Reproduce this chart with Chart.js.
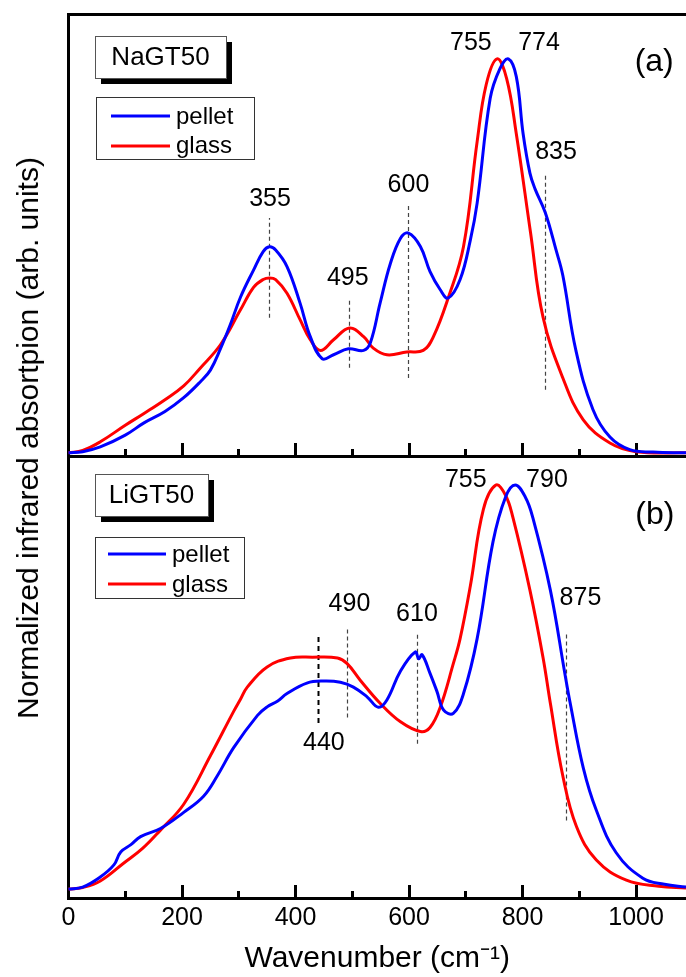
<!DOCTYPE html>
<html>
<head>
<meta charset="utf-8">
<script src="https://cdn.jsdelivr.net/npm/chart.js@4"></script>
<style>
html,body{margin:0;padding:0;background:#fff;}
#wrap{position:relative;width:686px;height:977px;overflow:hidden;background:#fff;font-family:"Liberation Sans",Arial,sans-serif;}
#ca{position:absolute;left:0;top:0;}
#cb{position:absolute;left:0;top:446px;}
#ytitle{position:absolute;left:28px;top:438px;transform:translate(-50%,-50%) rotate(-90deg);white-space:nowrap;font-size:30px;color:#000;line-height:1;}
</style>
</head>
<body>
<div id="wrap">
<canvas id="ca" width="686" height="462"></canvas>
<canvas id="cb" width="686" height="531"></canvas>
<div id="ytitle">Normalized infrared absortpion (arb. units)</div>
</div>
<script>
// ---------------- DATA ----------------
const seriesNames = ['pellet', 'glass'];
const xTickValues = [0, 100, 200, 300, 400, 500, 600, 700, 800, 900, 1000];
const xMin = 0, xMax = 1088;

// Panel (a) NaGT50
const naPelletX = [0, 25, 56, 100, 133, 170, 203, 232, 250, 268, 285, 303, 326, 343, 354, 365, 385, 408, 426, 447, 467, 493, 520, 532, 549, 567, 585, 599, 620, 637, 655, 669, 690, 708, 720, 743, 760, 775, 789, 801, 813, 822, 840, 859, 871, 894, 924, 954, 989, 1030, 1088];
const naPelletY = [0, 0.003, 0.015, 0.045, 0.076, 0.105, 0.14, 0.18, 0.21, 0.265, 0.325, 0.395, 0.464, 0.511, 0.523, 0.515, 0.473, 0.38, 0.295, 0.239, 0.249, 0.264, 0.26, 0.28, 0.38, 0.48, 0.545, 0.558, 0.524, 0.46, 0.414, 0.393, 0.44, 0.54, 0.634, 0.9, 0.975, 1.0, 0.955, 0.81, 0.71, 0.67, 0.61, 0.515, 0.45, 0.26, 0.11, 0.04, 0.008, 0.002, 0.0];
const naGlassX = [0, 25, 56, 100, 133, 170, 203, 232, 268, 303, 326, 343, 354, 365, 385, 408, 426, 444, 467, 495, 520, 537, 561, 596, 625, 643, 669, 696, 720, 736, 755, 772, 789, 814, 836, 871, 907, 954, 1000, 1088];
const naGlassY = [0, 0.006, 0.028, 0.07, 0.10, 0.135, 0.17, 0.215, 0.275, 0.363, 0.42, 0.44, 0.444, 0.44, 0.405, 0.338, 0.287, 0.26, 0.287, 0.317, 0.295, 0.266, 0.249, 0.256, 0.26, 0.295, 0.393, 0.524, 0.79, 0.935, 1.0, 0.95, 0.81, 0.56, 0.345, 0.19, 0.084, 0.025, 0.003, 0.0];

// Panel (b) LiGT50
const liPelletX = [0, 25, 56, 80, 92, 110, 127, 162, 203, 238, 262, 291, 333, 350, 368, 385, 420, 450, 479, 502, 526, 546, 561, 585, 611, 617, 623, 637, 649, 661, 678, 696, 720, 748, 770, 787, 805, 818, 849, 875, 884, 907, 930, 965, 1012, 1050, 1088];
const liPelletY = [0, 0.005, 0.03, 0.06, 0.092, 0.11, 0.13, 0.15, 0.19, 0.23, 0.28, 0.35, 0.43, 0.451, 0.465, 0.484, 0.51, 0.515, 0.512, 0.50, 0.476, 0.45, 0.468, 0.54, 0.587, 0.57, 0.58, 0.534, 0.49, 0.443, 0.435, 0.484, 0.62, 0.86, 0.97, 1.0, 0.97, 0.92, 0.74, 0.53, 0.46, 0.30, 0.195, 0.09, 0.027, 0.012, 0.005];
const liGlassX = [0, 25, 56, 97, 130, 162, 203, 250, 291, 303, 315, 350, 391, 430, 474, 491, 514, 549, 585, 620, 637, 655, 678, 690, 708, 731, 753, 770, 783, 813, 836, 849, 871, 895, 930, 983, 1040, 1088];
const liGlassY = [0, 0.004, 0.02, 0.064, 0.10, 0.146, 0.21, 0.33, 0.44, 0.47, 0.50, 0.55, 0.572, 0.574, 0.572, 0.558, 0.517, 0.46, 0.414, 0.39, 0.40, 0.45, 0.558, 0.62, 0.75, 0.94, 1.0, 0.975, 0.92, 0.74, 0.574, 0.46, 0.28, 0.155, 0.072, 0.022, 0.007, 0.003];

// Peak markers (wavenumber, lower/upper normalized value) and labels
const naMarkX = [354, 495, 599, 839];
const naMarkLow = [0.343, 0.216, 0.19, 0.16];
const naMarkHigh = [0.596, 0.388, 0.63, 0.71];
const naLabelText = ['355', '495', '600', '835', '755', '774'];
const naLabelX = [355, 492, 599, 859, 709, 829];
const naLabelY = [0.643, 0.444, 0.68, 0.763, 1.04, 1.04];
const naPanelTag = '(a)', naPanelTagX = 1032, naPanelTagY = 0.992;
const naSample = 'NaGT50';

const liMarkX = [440, 491, 614, 877];
const liMarkLow = [0.411, 0.425, 0.36, 0.17];
const liMarkHigh = [0.634, 0.65, 0.636, 0.63];
const liLabelText = ['440', '490', '610', '875', '755', '790'];
const liLabelX = [450, 495, 614, 902, 700, 843];
const liLabelY = [0.361, 0.706, 0.681, 0.72, 1.012, 1.012];
const liPanelTag = '(b)', liPanelTagX = 1033, liPanelTagY = 0.926;
const liSample = 'LiGT50';

// ---------------- CHART ----------------
const FONT = "'Liberation Sans', Arial, sans-serif";
Chart.defaults.font.family = FONT;
Chart.defaults.color = '#000';
const BLUE = '#0000ff', RED = '#ff0000';

function pts(xs, ys) { return xs.map((x, i) => ({ x: x, y: ys[i] })); }

function dataset(label, xs, ys, color) {
  return {
    label: label, data: pts(xs, ys), borderColor: color, backgroundColor: color,
    borderWidth: 3, pointRadius: 0, fill: false, tension: 0.4,
    clip: false
  };
}

function annotationPlugin(cfg) {
  return {
    id: 'ann' + cfg.key,
    beforeDatasetsDraw(chart) {
      const { ctx, scales: { x, y } } = chart;
      ctx.save();
      cfg.markX.forEach((mx, i) => {
        const heavy = cfg.heavy && cfg.heavy[i];
        ctx.beginPath();
        ctx.setLineDash(heavy ? [5, 4] : [4, 3]);
        ctx.lineWidth = heavy ? 2 : 1.2;
        ctx.strokeStyle = heavy ? '#000' : '#444';
        const px = Math.round(x.getPixelForValue(mx)) + 0.5;
        ctx.moveTo(px, y.getPixelForValue(cfg.markLow[i]));
        ctx.lineTo(px, y.getPixelForValue(cfg.markHigh[i]));
        ctx.stroke();
      });
      ctx.restore();
    },
    afterDraw(chart) {
      const { ctx, scales: { x, y } } = chart;
      ctx.save();
      ctx.fillStyle = '#000';
      ctx.textAlign = 'center';
      ctx.textBaseline = 'middle';
      ctx.font = '25px ' + FONT;
      cfg.labelText.forEach((t, i) => {
        ctx.fillText(t, x.getPixelForValue(cfg.labelX[i]), y.getPixelForValue(cfg.labelY[i]));
      });
      ctx.font = '32px ' + FONT;
      ctx.fillText(cfg.tag, x.getPixelForValue(cfg.tagX), y.getPixelForValue(cfg.tagY));

      // sample name box with drop shadow
      const b = cfg.box;
      ctx.fillStyle = '#000';
      ctx.fillRect(b.x + 6, b.y + 6, b.w, b.h);
      ctx.fillStyle = '#fff';
      ctx.fillRect(b.x, b.y, b.w, b.h);
      ctx.lineWidth = 1;
      ctx.strokeStyle = '#555';
      ctx.strokeRect(b.x + 0.5, b.y + 0.5, b.w, b.h);
      ctx.fillStyle = '#000';
      ctx.font = '26px ' + FONT;
      ctx.fillText(cfg.sample, b.x + b.w / 2, b.y + b.h / 2 + 1);

      // legend
      const L = cfg.legend;
      ctx.fillStyle = '#fff';
      ctx.fillRect(L.x, L.y, L.w, L.h);
      ctx.strokeStyle = '#333';
      ctx.lineWidth = 1;
      ctx.strokeRect(L.x + 0.5, L.y + 0.5, L.w, L.h);
      ctx.textAlign = 'left';
      ctx.textBaseline = 'alphabetic';
      ctx.font = '24px ' + FONT;
      chart.data.datasets.forEach((ds, i) => {
        const ly = L.y + L.lineY[i];
        ctx.beginPath();
        ctx.setLineDash([]);
        ctx.lineWidth = 3;
        ctx.strokeStyle = ds.borderColor;
        ctx.moveTo(L.x + L.lineX0, ly);
        ctx.lineTo(L.x + L.lineX1, ly);
        ctx.stroke();
        ctx.fillStyle = '#000';
        ctx.fillText(ds.label, L.x + L.textX, L.y + L.textY[i]);
      });
      ctx.restore();
    }
  };
}

function xAxis(showLabels, height) {
  return {
    type: 'linear', position: 'bottom', min: xMin, max: xMax,
    afterBuildTicks: s => { s.ticks = xTickValues.map(v => ({ value: v })); },
    ticks: {
      display: showLabels, autoSkip: false, maxRotation: 0, padding: 18,
      font: { size: 25 }, color: '#000',
      callback: v => (v % 200 === 0 ? String(v) : '')
    },
    grid: {
      display: true, drawOnChartArea: false, drawTicks: true, tickLength: -13,
      tickWidth: 3, tickColor: '#000',
      tickBorderDash: c => (c.tick && c.tick.value % 200 === 0) ? [] : [9, 100]
    },
    border: { display: true, width: 3, color: '#000' },
    title: showLabels ? { display: true, text: 'Wavenumber (cm\u207B\u00B9)', font: { size: 30 }, padding: 0, color: '#000' } : { display: false },
    afterFit: s => { s.height = height; }
  };
}

function yAxis(min, max) {
  return {
    type: 'linear', position: 'left', min: min, max: max,
    ticks: { display: false },
    grid: { display: false },
    border: { display: true, width: 3, color: '#000' },
    afterFit: s => { s.width = 68.5; }
  };
}

new Chart(document.getElementById('ca'), {
  type: 'line',
  data: { datasets: [dataset(seriesNames[0], naPelletX, naPelletY, BLUE), dataset(seriesNames[1], naGlassX, naGlassY, RED)] },
  options: {
    responsive: false, animation: false, events: [],
    layout: { padding: { top: 14, left: 0, right: 0, bottom: 0 } },
    plugins: { legend: { display: false }, tooltip: { enabled: false } },
    scales: {
      x: xAxis(false, 6),
      xTop: {
        type: 'linear', position: 'top', min: xMin, max: xMax,
        ticks: { display: false }, grid: { display: false },
        border: { display: true, width: 3, color: '#000' },
        afterFit: s => { s.height = 0; }
      },
      y: yAxis(-0.008, 1.114)
    }
  },
  plugins: [annotationPlugin({
    key: 'a', markX: naMarkX, markLow: naMarkLow, markHigh: naMarkHigh,
    labelText: naLabelText, labelX: naLabelX, labelY: naLabelY,
    tag: naPanelTag, tagX: naPanelTagX, tagY: naPanelTagY, sample: naSample,
    box: { x: 95, y: 36, w: 131, h: 42 },
    legend: { x: 96, y: 97, w: 158, h: 62, lineX0: 15, lineX1: 74, textX: 80, lineY: [19, 49], textY: [27, 56] }
  })]
});

new Chart(document.getElementById('cb'), {
  type: 'line',
  data: { datasets: [dataset(seriesNames[0], liPelletX, liPelletY, BLUE), dataset(seriesNames[1], liGlassX, liGlassY, RED)] },
  options: {
    responsive: false, animation: false, events: [],
    layout: { padding: { top: 10, left: 0, right: 0, bottom: 0 } },
    plugins: { legend: { display: false }, tooltip: { enabled: false } },
    scales: {
      x: xAxis(true, 79),
      y: yAxis(-0.022, 1.072)
    }
  },
  plugins: [annotationPlugin({
    key: 'b', markX: liMarkX, markLow: liMarkLow, markHigh: liMarkHigh, heavy: [true, false, false, false],
    labelText: liLabelText, labelX: liLabelX, labelY: liLabelY,
    tag: liPanelTag, tagX: liPanelTagX, tagY: liPanelTagY, sample: liSample,
    box: { x: 95, y: 28, w: 113, h: 42 },
    legend: { x: 95, y: 91, w: 149, h: 61, lineX0: 13, lineX1: 71, textX: 77, lineY: [17, 47], textY: [25, 55] }
  })]
});
</script>
</body>
</html>
